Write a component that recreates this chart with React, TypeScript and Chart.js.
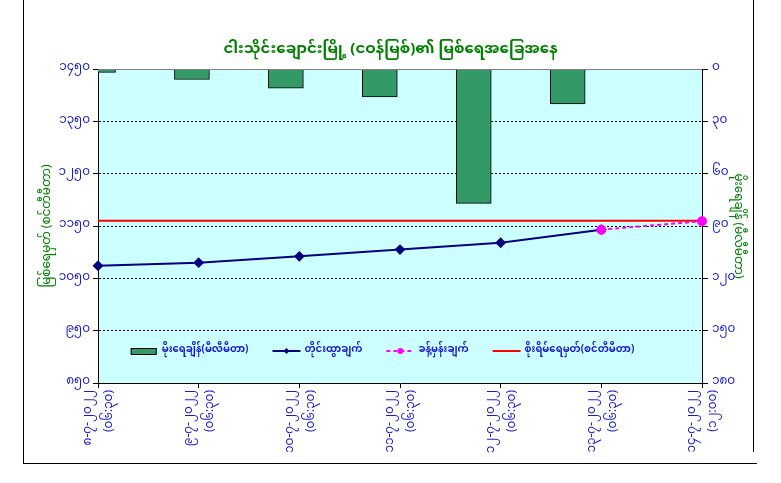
import React, { useEffect, useRef } from "react";
import { Chart, registerables } from "chart.js";

Chart.register(...registerables);

const chartTitle = "ငါးသိုင်းချောင်းမြို့ (ငဝန်မြစ်)၏ မြစ်ရေအခြေအနေ";
const leftAxisTitle = "မြစ်ရေမှတ် (စင်တီမီတာ)";
const rightAxisTitle = "မိုးရေချိန် (မီလီမီတာ)";

const dates = ["၈-၇-၂၀၂၂", "၉-၇-၂၀၂၂", "၁၀-၇-၂၀၂၂", "၁၁-၇-၂၀၂၂", "၁၂-၇-၂၀၂၂", "၁၃-၇-၂၀၂၂", "၁၄-၇-၂၀၂၂"];
const times = ["(၀၆:၃၀)", "(၀၆:၃၀)", "(၀၆:၃၀)", "(၀၆:၃၀)", "(၀၆:၃၀)", "(၀၆:၃၀)", "(၁၂:၀၀)"];

const rainLabel = "မိုးရေချိန်(မီလီမီတာ)";
const measuredLabel = "တိုင်းထွာချက်";
const forecastLabel = "ခန့်မှန်းချက်";
const dangerLabel = "စိုးရိမ်ရေမှတ်(စင်တီမီတာ)";

const rainfall = [2, 6, 11, 16, 77, 20];
const measured = [1074, 1080, 1092, 1105, 1118, 1143, null];
const forecast = [null, null, null, null, null, 1143, 1159];
const danger = [1160, 1160, 1160, 1160, 1160, 1160, 1160];

const myDigits = ["၀", "၁", "၂", "၃", "၄", "၅", "၆", "၇", "၈", "၉"];
const toMy = (v: number) => String(v).replace(/[0-9]/g, (d) => myDigits[Number(d)]);

const FONT = "'Noto Sans Myanmar', 'Padauk', 'Myanmar Text', 'Noto Sans', 'DejaVu Sans', sans-serif";
const BLUE = "#1a1acc";
const GREEN = "#008000";

const bgPlugin = {
  id: "bgPlugin",
  beforeDraw(chart: any) {
    const { ctx, chartArea: a, width, height } = chart;
    ctx.save();
    ctx.fillStyle = "#ffffff";
    ctx.fillRect(0, 0, width, height);
    ctx.fillStyle = "#CCFFFF";
    ctx.fillRect(a.left, a.top, a.right - a.left, a.bottom - a.top);
    ctx.restore();
  },
  afterDraw(chart: any) {
    const { ctx, chartArea: a } = chart;
    ctx.save();
    ctx.strokeStyle = "#808080";
    ctx.lineWidth = 1;
    ctx.beginPath();
    ctx.moveTo(a.left, a.top + 0.5);
    ctx.lineTo(a.right, a.top + 0.5);
    ctx.stroke();
    ctx.restore();
  },
};

const legendPlugin = {
  id: "innerLegend",
  afterDraw(chart: any) {
    const { ctx, chartArea: a } = chart;
    const ds = chart.data.datasets;
    ctx.save();
    ctx.font = "bold 10px " + FONT;
    ctx.textBaseline = "middle";
    const symW = 28;
    const gapSym = 4;
    const gapItem = 24;
    const widths = ds.map((d: any) => symW + gapSym + ctx.measureText(d.label).width);
    const total = widths.reduce((s: number, w: number) => s + w, 0) + gapItem * (ds.length - 1);
    let x = (a.left + a.right) / 2 - 18 - total / 2;
    const y = a.bottom - 32;
    ds.forEach((d: any, i: number) => {
      if (d.type === "bar") {
        ctx.fillStyle = d.backgroundColor;
        ctx.strokeStyle = "#000";
        ctx.lineWidth = 1;
        ctx.fillRect(x + 1, y - 3, symW - 2, 6);
        ctx.strokeRect(x + 1.5, y - 2.5, symW - 3, 6);
      } else {
        ctx.strokeStyle = d.borderColor;
        ctx.lineWidth = d.borderWidth;
        ctx.setLineDash(d.borderDash || []);
        ctx.beginPath();
        ctx.moveTo(x, y);
        ctx.lineTo(x + symW, y);
        ctx.stroke();
        ctx.setLineDash([]);
        if (d.pointRadius > 0) {
          ctx.fillStyle = d.pointBackgroundColor;
          const cx = x + symW / 2;
          const r = d.pointRadius - 1;
          ctx.beginPath();
          if (d.pointStyle === "rectRot") {
            ctx.moveTo(cx, y - r);
            ctx.lineTo(cx + r, y);
            ctx.lineTo(cx, y + r);
            ctx.lineTo(cx - r, y);
            ctx.closePath();
          } else {
            ctx.arc(cx, y, r, 0, Math.PI * 2);
          }
          ctx.fill();
        }
      }
      ctx.fillStyle = BLUE;
      ctx.textAlign = "left";
      ctx.fillText(d.label, x + symW + gapSym, y);
      x += widths[i] + gapItem;
    });
    ctx.restore();
  },
};

export default function App() {
  const ref = useRef<HTMLCanvasElement | null>(null);

  useEffect(() => {
    if (!ref.current) return;
    const labels = dates.map((d, i) => [d, times[i]]);
    const chart = new Chart(ref.current, {
      type: "line",
      data: {
        labels,
        datasets: [
          {
            type: "bar",
            label: rainLabel,
            data: rainfall.map((v, i) => ({ x: i, y: v })) as any,
            xAxisID: "xBar",
            yAxisID: "yRain",
            backgroundColor: "#339966",
            borderColor: "#000000",
            borderWidth: 1,
            barThickness: 35,
            grouped: false,
            order: 4,
          } as any,
          {
            type: "line",
            label: measuredLabel,
            data: measured,
            xAxisID: "x",
            yAxisID: "y",
            borderColor: "#000080",
            backgroundColor: "#000080",
            pointBackgroundColor: "#000080",
            pointBorderColor: "#000080",
            borderWidth: 2,
            pointStyle: "rectRot",
            pointRadius: 4,
            order: 2,
          } as any,
          {
            type: "line",
            label: forecastLabel,
            data: forecast,
            xAxisID: "x",
            yAxisID: "y",
            borderColor: "#FF00FF",
            backgroundColor: "#FF00FF",
            pointBackgroundColor: "#FF00FF",
            pointBorderColor: "#FF00FF",
            borderWidth: 2,
            borderDash: [4, 3],
            pointStyle: "circle",
            pointRadius: 4,
            order: 1,
          } as any,
          {
            type: "line",
            label: dangerLabel,
            data: danger,
            xAxisID: "x",
            yAxisID: "y",
            borderColor: "#FF0000",
            backgroundColor: "#FF0000",
            borderWidth: 2,
            pointRadius: 0,
            order: 3,
          } as any,
        ],
      },
      options: {
        responsive: false,
        animation: false,
        layout: { padding: 0 },
        font: { family: FONT },
        plugins: {
          legend: { display: false },
          tooltip: { enabled: false },
          title: {
            display: true,
            text: chartTitle,
            color: GREEN,
            font: { family: FONT, size: 15, weight: "bold" },
            padding: { top: 42, bottom: 9 },
          },
        },
        scales: {
          x: {
            type: "category",
            offset: false,
            grid: { drawOnChartArea: false, tickLength: 5, color: "#000", offset: false },
            border: { color: "#000", width: 1 },
            ticks: {
              color: BLUE,
              font: { family: FONT, size: 12, lineHeight: 1.75 },
              maxRotation: 90,
              minRotation: 90,
              autoSkip: false,
              padding: 2,
              labelOffset: -8,
            },
            afterFit(scale: any) {
              scale.height = 100;
            },
          },
          xBar: {
            type: "linear",
            position: "top",
            display: true,
            min: 0,
            max: 6.43,
            offset: false,
            ticks: { display: false },
            grid: { display: false, drawTicks: false },
            border: { display: false },
            afterFit(scale: any) {
              scale.height = 0;
            },
          },
          y: {
            type: "linear",
            position: "left",
            min: 850,
            max: 1450,
            ticks: {
              stepSize: 100,
              color: BLUE,
              font: { family: FONT, size: 12 },
              padding: 3,
              callback: (v: any) => toMy(v),
            },
            grid: {
              color: (c: any) =>
                c.tick && (c.tick.value === 850 || c.tick.value === 1450) ? "rgba(0,0,0,0)" : "#000",
              tickColor: "#000",
              tickLength: 5,
              lineWidth: 1,
            },
            border: { color: "#000", width: 1, dash: [2, 2] },
            title: {
              display: true,
              text: leftAxisTitle,
              color: GREEN,
              font: { family: FONT, size: 12 },
              padding: { top: 42, bottom: 0 },
            },
            afterFit(scale: any) {
              scale.width = 98;
            },
          },
          yRain: {
            type: "linear",
            position: "right",
            reverse: true,
            min: 0,
            max: 180,
            ticks: {
              stepSize: 30,
              color: BLUE,
              font: { family: FONT, size: 12 },
              padding: 4,
              callback: (v: any) => toMy(v),
            },
            grid: { drawOnChartArea: false, tickLength: 6, color: "#000" },
            border: { color: "#000", width: 1 },
            title: {
              display: true,
              text: rightAxisTitle,
              color: GREEN,
              font: { family: FONT, size: 12 },
              padding: { top: 38, bottom: 0 },
            },
            afterFit(scale: any) {
              scale.width = 79;
            },
          },
        },
      } as any,
      plugins: [bgPlugin, legendPlugin],
    });
    return () => chart.destroy();
  }, []);

  return (
    <div style={{ position: "fixed", left: 0, top: 0, width: 781, height: 483, background: "#fff" }}>
      <canvas ref={ref} width={781} height={483} style={{ position: "absolute", left: 0, top: 0 }} />
      <div style={{ position: "absolute", left: 23, top: 0, width: 1, height: 463, background: "#000" }} />
      <div style={{ position: "absolute", left: 23, top: 463, width: 734, height: 1, background: "#000" }} />
      <div style={{ position: "absolute", left: 753, top: 0, width: 1, height: 452, background: "#000" }} />
    </div>
  );
}
